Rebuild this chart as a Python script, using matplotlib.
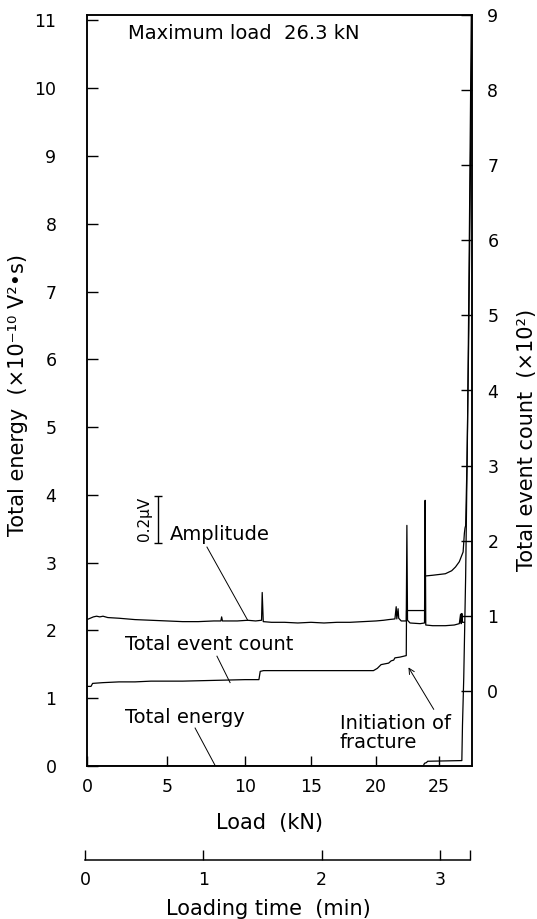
import numpy as np
import matplotlib
matplotlib.use("Agg")
import matplotlib.pyplot as plt

# load (kN) against loading time (min)
cal_load = [0, 5, 10, 15, 20, 25, 27.6]
cal_time = [0, 0.676, 1.336, 1.893, 2.443, 2.975, 3.254]

# amplitude trace, drawn in left-axis units
amp_load = [0.0, 0.2, 0.4, 0.6, 0.8, 1.0, 1.3, 2.0, 3.0, 4.0, 5.0, 6.0, 7.0, 8.0, 8.45, 8.5, 8.55,
            9.5, 10.2, 10.8, 11.25, 11.3, 11.38, 12, 13, 14, 15, 16, 17, 18, 19, 20, 20.6, 21.0,
            21.5, 21.6, 21.65, 21.75, 21.8, 22.0, 22.4, 22.45, 22.5, 22.7, 23.5, 23.85, 23.9, 23.95,
            24.5, 25.5, 26.2, 26.6, 26.7, 26.75, 26.8, 26.85, 27.0]
amp_val = [2.16, 2.18, 2.20, 2.21, 2.20, 2.21, 2.19, 2.18, 2.16, 2.15, 2.14, 2.13, 2.13, 2.14, 2.14, 2.20, 2.14,
           2.14, 2.15, 2.14, 2.15, 2.56, 2.13, 2.12, 2.12, 2.11, 2.12, 2.11, 2.12, 2.12, 2.13, 2.14, 2.15, 2.16,
           2.17, 2.35, 2.17, 2.32, 2.18, 2.14, 2.14, 3.55, 2.15, 2.11, 2.10, 2.11, 3.92, 2.08,
           2.07, 2.07, 2.08, 2.10, 2.24, 2.10, 2.25, 2.12, 2.12]

# total event count (x10^2), right axis
cnt_load = [0.0, 0.25, 0.35, 1.0, 2.0, 3.0, 4.0, 6.0, 8.0, 10.0, 11.05, 11.15, 11.4, 14, 17, 19.8,
            20.1, 20.4, 21.0, 21.2, 21.4, 21.5, 21.9, 22.4, 22.42, 23.88, 23.9, 24.5, 25.5, 26.0,
            26.3, 26.6, 26.9, 27.0, 27.05, 27.1, 27.2, 27.35, 27.45, 27.55, 27.62]
cnt_val = [0.06, 0.06, 0.10, 0.11, 0.12, 0.12, 0.13, 0.13, 0.14, 0.15, 0.15, 0.26, 0.27, 0.27, 0.27, 0.27,
           0.30, 0.35, 0.37, 0.40, 0.41, 0.44, 0.45, 0.47, 1.07, 1.07, 1.53, 1.54, 1.56, 1.60,
           1.65, 1.72, 1.85, 2.10, 2.17, 2.20, 3.0, 4.8, 6.5, 8.2, 9.1]

# total energy (x10^-10 V^2 s), left axis
en_load = [0, 23.75, 23.85, 24.0, 24.1, 26.8, 26.85, 26.95, 27.1, 27.25, 27.4, 27.55]
en_val = [0, 0, 0.04, 0.05, 0.07, 0.08, 0.6, 1.3, 2.8, 5.0, 8.0, 11.2]

load_ticks = [0, 5, 10, 15, 20, 25]
energy_ticks = list(range(0, 12))
count_ticks = list(range(0, 10))
time_ticks = [0, 1, 2, 3]

# nonlinear load axis: position follows loading time
ext_load = np.array([-10] + cal_load + [40])
ext_time = np.array([-1.352] + cal_time + [4.5])

def load_to_time(x):
    return np.interp(x, ext_load, ext_time)

def time_to_load(t):
    return np.interp(t, ext_time, ext_load)

plt.rcParams['font.family'] = 'DejaVu Sans'
W, H = 537, 919
fig = plt.figure(figsize=(W / 100, H / 100), dpi=100)
ax = fig.add_axes([87 / W, 1 - 766 / H, 385 / W, 751 / H])
ax.set_xscale('function', functions=(load_to_time, time_to_load))
ax.set_xlim(0, 27.6)
ax.set_ylim(0, 11.08)

ax.plot(amp_load, amp_val, color='black', lw=0.9)
ax.plot(en_load, en_val, color='black', lw=0.9)

ax2 = ax.twinx()
ax2.set_ylim(-1, 9)
ax2.plot(cnt_load, cnt_val, color='black', lw=0.9)

ax.set_xticks(load_ticks)
ax.set_xticklabels([str(v) for v in load_ticks])
ax.set_yticks(energy_ticks)
ax2.set_yticks(count_ticks)
ax.xaxis.set_minor_locator(plt.NullLocator())
ax.tick_params(axis='x', direction='in', length=7, width=1, labelsize=12.5, pad=8.5)
ax.tick_params(axis='y', direction='in', length=8, width=1, labelsize=12.5, pad=22)
ax2.tick_params(axis='y', direction='in', length=8, width=1, labelsize=12.5, pad=11)
for a in (ax, ax2):
    for s in a.spines.values():
        s.set_linewidth(1.1)

# annotations
fs = 14
ax.text(2.56, 10.8, "Maximum load  26.3 kN", fontsize=fs, va='center', ha='left')
ax.text(5.2, 3.41, "Amplitude", fontsize=fs, va='center', ha='left')
ax.plot([7.56, 10.2], [3.23, 2.15], color='black', lw=0.7)
ax.text(2.4, 1.79, "Total event count", fontsize=fs, va='center', ha='left')
ax.plot([8.2, 9.04], [1.62, 1.23], color='black', lw=0.7)
ax.text(2.4, 0.71, "Total energy", fontsize=fs, va='center', ha='left')
ax.plot([6.8, 8.1], [0.56, 0.0], color='black', lw=0.7)
ax.text(17.2, 0.49, "Initiation of\nfracture", fontsize=fs, va='center', ha='left', linespacing=1.0)
ax.annotate("", xy=(22.46, 1.49), xytext=(24.7, 0.8),
            arrowprops=dict(arrowstyle='->', color='black', lw=0.7))

# 0.2 uV scale bar
ax.errorbar([4.44], [3.64], yerr=[0.345], color='black', lw=1, capsize=3, capthick=1)
ax.text(3.6, 3.64, "0.2μV", fontsize=11, rotation=90, va='center', ha='center')

fig.text(18 / W, 1 - 395 / H, "Total energy  (×10⁻¹⁰ V²•s)", rotation=90,
         fontsize=15, va='center', ha='center')
fig.text(527 / W, 1 - 440 / H, "Total event count  (×10²)", rotation=90,
         fontsize=15, va='center', ha='center')
fig.text(270 / W, 1 - 823 / H, "Load  (kN)", fontsize=15, va='center', ha='center')

# loading time axis
tax = fig.add_axes([85 / W, 1 - 860 / H, 385 / W, 0.02])
tax.set_xlim(0, 3.254)
tax.set_ylim(0, 1)
for side in ('top', 'left', 'right'):
    tax.spines[side].set_visible(False)
tax.spines['bottom'].set_linewidth(1.1)
tax.patch.set_visible(False)
tax.set_yticks([])
tax.set_xticks(time_ticks + [3.254])
tax.set_xticklabels([str(v) for v in time_ticks] + [''])
tax.tick_params(axis='x', direction='in', length=7, width=1, labelsize=12.5, pad=8)
fig.text(268 / W, 1 - 909 / H, "Loading time  (min)", fontsize=15, va='center', ha='center')

fig.savefig("out.png", dpi=100)
